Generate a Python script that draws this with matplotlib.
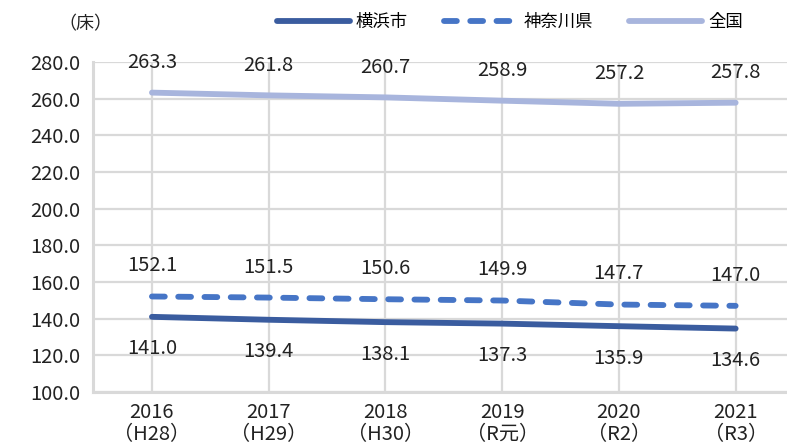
import matplotlib
matplotlib.use("Agg")
import matplotlib.pyplot as plt

plt.rcParams['font.family'] = ['Noto Sans CJK JP', 'DejaVu Sans']

years = ["2016\n（H28）", "2017\n（H29）", "2018\n（H30）", "2019\n（R元）", "2020\n（R2）", "2021\n（R3）"]
yokohama = [141.0, 139.4, 138.1, 137.3, 135.9, 134.6]
kanagawa = [152.1, 151.5, 150.6, 149.9, 147.7, 147.0]
zenkoku = [263.3, 261.8, 260.7, 258.9, 257.2, 257.8]

c_yoko = "#3A5C9F"
c_kana = "#4675C6"
c_zen = "#A8B5DD"
grid_c = "#D9D9D9"

fig = plt.figure(figsize=(7.87, 4.46), dpi=100)
ax = fig.add_axes([93/787, 54/446, 694/787, 330/446])

x = list(range(len(years)))
lw = 4.2
ax.plot(x, yokohama, color=c_yoko, lw=lw, solid_capstyle="round", label="横浜市", zorder=3)
ax.plot(x, kanagawa, color=c_kana, lw=lw, dashes=(2.2, 2.3), dash_capstyle="round",
        label="神奈川県", zorder=3)
ax.plot(x, zenkoku, color=c_zen, lw=lw, solid_capstyle="round", label="全国", zorder=3)

lab_fs = 14.5
for i in x:
    ax.annotate(f"{zenkoku[i]:.1f}", (i, zenkoku[i]), xytext=(0, 21.5), textcoords="offset points",
                ha="center", va="center", fontsize=lab_fs, color="#222222", zorder=4)
    ax.annotate(f"{kanagawa[i]:.1f}", (i, kanagawa[i]), xytext=(0, 22), textcoords="offset points",
                ha="center", va="center", fontsize=lab_fs, color="#222222", zorder=4)
    ax.annotate(f"{yokohama[i]:.1f}", (i, yokohama[i]), xytext=(0, -23), textcoords="offset points",
                ha="center", va="center", fontsize=lab_fs, color="#222222", zorder=4)

ax.set_xlim(-0.505, 5.44)
ax.set_ylim(100, 280)
ax.set_yticks(range(100, 281, 20))
ax.set_yticklabels([f"{v:.1f}" for v in range(100, 281, 20)])
ax.set_xticks(x)
ax.set_xticklabels(years, linespacing=1.1)

ax.grid(True, color=grid_c, lw=1.6, zorder=0)
ax.set_axisbelow(True)
for s in ["top", "right"]:
    ax.spines[s].set_visible(False)
for s in ["left", "bottom"]:
    ax.spines[s].set_color(grid_c)
    ax.spines[s].set_linewidth(2.2)
ax.tick_params(axis="both", length=0, labelsize=lab_fs, colors="#222222")
ax.tick_params(axis="y", pad=9)
ax.tick_params(axis="x", pad=7)

fig.text(58/787, 1 - 24/446, "（床）", fontsize=13, ha="left", va="center", color="#222222")

fig.legend(loc="center", bbox_to_anchor=(510/787, 1 - 22/446), ncol=3, frameon=False,
           fontsize=12.5, handlelength=4.2, handletextpad=0.35, columnspacing=2.1)

fig.savefig("out.png", dpi=100)
